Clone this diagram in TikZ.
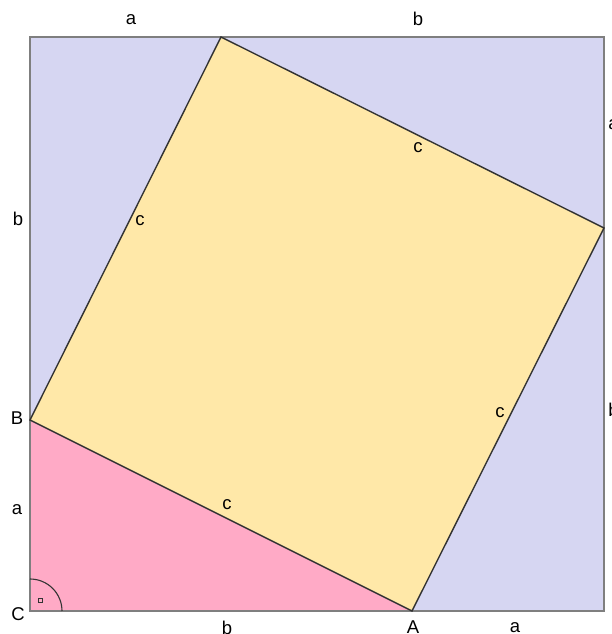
\documentclass[tikz,border=0pt]{standalone}
\usepackage{fontspec}
\setmainfont{Liberation Sans}
\usetikzlibrary{calc}
\definecolor{lav}{HTML}{D6D6F2}
\definecolor{yel}{HTML}{FFE8A8}
\definecolor{pnk}{HTML}{FFAAC6}
\definecolor{outl}{HTML}{7F7F7F}
\definecolor{inl}{HTML}{333333}
\tikzset{
  lbl/.style={font=\fontsize{18.5}{21}\selectfont, inner sep=0pt, text=black},
}
\begin{document}
\begin{tikzpicture}[x=1pt,y=1pt]
\useasboundingbox (0,0) rectangle (612,634);
\coordinate (C) at (30,23);
\coordinate (BR) at (604,23);
\coordinate (TR) at (604,597);
\coordinate (TL) at (30,597);
\coordinate (A) at (412,23);
\coordinate (R) at (604,406);
\coordinate (T) at (221,597);
\coordinate (B) at (30,214);
% background
\fill[lav] (C) rectangle (TR);
\fill[pnk] (C) -- (A) -- (B) -- cycle;
\fill[yel] (A) -- (R) -- (T) -- (B) -- cycle;
% outer square
\draw[outl, line width=2.2pt] (C) -- (BR) -- (TR) -- (TL) -- cycle;
% inner square
\draw[inl, line width=1.4pt, line join=miter] (A) -- (R) -- (T) -- (B) -- cycle;
% right angle
\draw[inl, line width=1.1pt] ($(C)+(32,0)$) arc (0:90:32);
\draw[inl, line width=0.9pt] (38.5,31.5) rectangle (42.5,35.5);
% labels
\node[lbl] (la1) at (131,614) {a};
\node[lbl] (lb1) at (418,615) {b};
\node[lbl] (la2) at (613.5,509) {a};
\node[lbl] (lb2) at (613.5,224) {b};
\node[lbl] (lb3) at (18,415) {b};
\node[lbl] (lB) at (17,216) {B};
\node[lbl] (la3) at (17,124) {a};
\node[lbl] (lC) at (18,20) {C};
\node[lbl] (lb4) at (227,6) {b};
\node[lbl] (lA) at (413,7) {A};
\node[lbl] (la4) at (515,6) {a};
\node[lbl] (c1) at (418,486) {c};
\node[lbl] (c2) at (140,413) {c};
\node[lbl] (c3) at (500,221) {c};
\node[lbl] (c4) at (227,129) {c};
\end{tikzpicture}
\end{document}
